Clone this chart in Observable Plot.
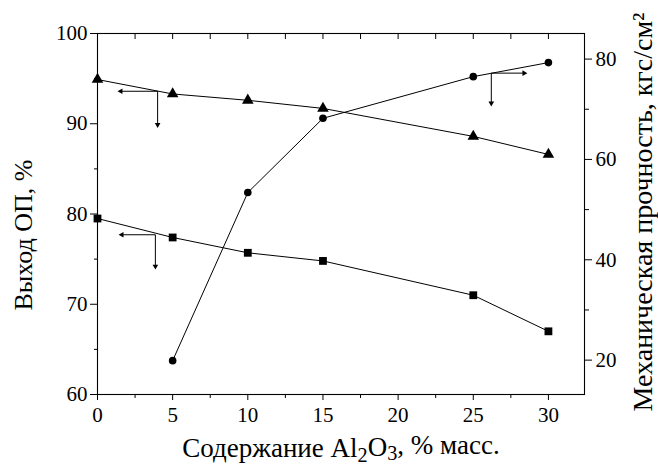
<!DOCTYPE html>
<html><head><meta charset="utf-8">
<script src="https://cdn.jsdelivr.net/npm/d3@7"></script>
<script src="https://cdn.jsdelivr.net/npm/@observablehq/plot@0.6"></script>
<style>
body{margin:0;background:#fff}
</style>
</head><body><div id="chart"></div>
<script>
// Al2O3 content, % mass
const content = [0, 5, 10, 15, 25, 30];
// Yield of OP, % (left axis) – triangles
const yieldTriangle = [94.9, 93.3, 92.6, 91.7, 88.6, 86.6];
// Yield of OP, % (left axis) – squares
const yieldSquare = [79.5, 77.4, 75.7, 74.8, 71.0, 67.0];
// Mechanical strength, kgf/cm² (right axis) – circles
const strengthContent = [5, 10, 15, 25, 30];
const strength = [19.9, 53.4, 68.2, 76.5, 79.3];

// axis ticks
const xTicks = [0, 5, 10, 15, 20, 25, 30];
const xMinor = [2.5, 7.5, 12.5, 17.5, 22.5, 27.5];
const yLeftTicks = [60, 70, 80, 90, 100];
const yLeftMinor = [65, 75, 85, 95];
const yRightTicks = [20, 40, 60, 80];
const yRightMinor = [30, 50, 70];

// axis ranges
const xDomain = [0, 32.4];
const yLeftDomain = [60, 100];
const yRightDomain = [13.15, 85.1];

// axis pointer annotations (data units)
const leftPointers = [
  {x1: 4.0, y1: 93.6, x2: 1.55, y2: 93.6},
  {x1: 4.0, y1: 93.6, x2: 4.0, y2: 89.9},
  {x1: 3.85, y1: 77.7, x2: 1.62, y2: 77.7},
  {x1: 3.85, y1: 77.7, x2: 3.85, y2: 74.2}
];
const rightPointers = [
  {x1: 26.2, y1: 77.2, x2: 28.38, y2: 77.2},
  {x1: 26.2, y1: 77.2, x2: 26.2, y2: 71.2}
];

const xLabel = "Содержание Al2O3, % масс.";
const yLeftLabel = "Выход ОП, %";
const yRightLabel = "Механическая прочность, кгс/см²";

const FONT = "'Liberation Serif', Tinos, 'Times New Roman', 'DejaVu Serif', serif";

const toLeft = d3.scaleLinear(yRightDomain, yLeftDomain);

const tri = content.map((x, i) => ({x, y: yieldTriangle[i]}));
const sq = content.map((x, i) => ({x, y: yieldSquare[i]}));
const circ = strengthContent.map((x, i) => ({x, y: toLeft(strength[i])}));
const rp = rightPointers.map(d => ({x1: d.x1, x2: d.x2, y1: toLeft(d.y1), y2: toLeft(d.y2)}));
const pointers = leftPointers.concat(rp);
const heads = pointers.map(d => ({
  x: d.x2, y: d.y2,
  angle: d.y1 === d.y2 ? (d.x2 > d.x1 ? 90 : -90) : (d.y2 < d.y1 ? 180 : 0)
}));

const blank = () => "";
const fs = 21;

const chart = Plot.plot({
  width: 658, height: 465,
  marginLeft: 97, marginRight: 74, marginTop: 33, marginBottom: 71,
  x: {domain: xDomain},
  y: {domain: yLeftDomain},
  style: {color: "black", background: "white", overflow: "visible"},
  marks: [
    // bottom axis
    Plot.axisX({ticks: xTicks, tickSize: 6, tickPadding: 7, fontSize: fs, label: null}),
    Plot.axisX({ticks: xMinor, tickSize: 4, tickFormat: blank, label: null}),
    // top inward ticks
    Plot.axisX({anchor: "top", ticks: xTicks, tickSize: 5, dy: 5, tickFormat: blank, label: null}),
    Plot.axisX({anchor: "top", ticks: xMinor, tickSize: 5, dy: 5, tickFormat: blank, label: null}),
    // left axis
    Plot.axisY({ticks: yLeftTicks, tickSize: 7, tickPadding: 3, fontSize: fs, label: null}),
    Plot.axisY({ticks: yLeftMinor, tickSize: 3, tickFormat: blank, label: null}),
    // right axis (strength), mapped onto left scale
    Plot.axisY({anchor: "right", ticks: yRightTicks.map(toLeft), tickFormat: d => String(Math.round(toLeft.invert(d))),
      tickSize: 7, tickPadding: 4, fontSize: fs, label: null}),
    Plot.axisY({anchor: "right", ticks: yRightMinor.map(toLeft), tickSize: 4, tickFormat: blank, label: null}),
    Plot.frame({stroke: "black", strokeWidth: 1.1}),
    // series
    Plot.line(tri, {x: "x", y: "y", stroke: "black", strokeWidth: 1}),
    Plot.dot(tri, {x: "x", y: "y", symbol: "triangle", r: 4.3, fill: "black", stroke: null}),
    Plot.line(sq, {x: "x", y: "y", stroke: "black", strokeWidth: 1}),
    Plot.dot(sq, {x: "x", y: "y", symbol: "square", r: 4.4, fill: "black", stroke: null}),
    Plot.line(circ, {x: "x", y: "y", stroke: "black", strokeWidth: 1}),
    Plot.dot(circ, {x: "x", y: "y", symbol: "circle", r: 3.8, fill: "black", stroke: null}),
    // pointers (shafts + filled heads)
    Plot.link(pointers, {x1: "x1", y1: "y1", x2: "x2", y2: "y2", stroke: "black", strokeWidth: 1}),
    Plot.dot(heads, {x: "x", y: "y", rotate: "angle", symbol: "triangle", r: 2.1, fill: "black", stroke: null}),
    // axis titles
    Plot.text([xLabel], {text: d => d, frameAnchor: "bottom", textAnchor: "middle", lineAnchor: "middle", dy: 54, fontSize: 27, fill: "black"}),
    Plot.text([yLeftLabel], {text: d => d, frameAnchor: "left", textAnchor: "middle", lineAnchor: "middle", rotate: -90, dx: -74, dy: 21, fontSize: 26, fill: "black"}),
    Plot.text([yRightLabel], {text: d => d, frameAnchor: "right", textAnchor: "middle", lineAnchor: "middle", rotate: -90, dx: 59, dy: -2, fontSize: 28, fill: "black"})
  ]
});

// serif font everywhere
d3.select(chart).attr("font-family", FONT).style("font-family", FONT);
d3.select(chart).selectAll("g, text").attr("font-family", FONT).style("font-family", FONT);

// subscripts for Al2O3
d3.select(chart).selectAll("text").each(function() {
  if (this.textContent === xLabel) {
    const t = d3.select(this);
    t.text(null);
    t.append("tspan").text("Содержание Al");
    t.append("tspan").attr("dy", "0.22em").attr("font-size", "0.75em").text("2");
    t.append("tspan").attr("dy", "-0.22em").text("O");
    t.append("tspan").attr("dy", "0.22em").attr("font-size", "0.75em").text("3");
    t.append("tspan").attr("dy", "-0.22em").text(", % масс.");
  }
});

document.getElementById("chart").appendChild(chart);
</script>
</body></html>
